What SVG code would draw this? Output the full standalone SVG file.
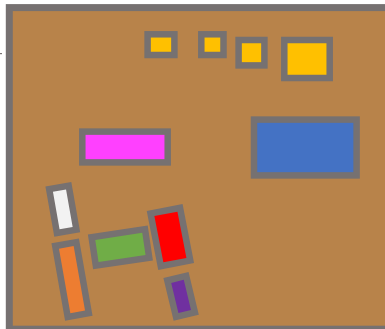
<svg xmlns="http://www.w3.org/2000/svg" width="385" height="329" viewBox="0 0 385 329">
<style>
.b{stroke:#767171;stroke-width:6.5}
</style>
<rect width="385" height="329" fill="#ffffff"/>
<g id="frame"><rect x="9.3" y="7.6" width="385" height="321.6" fill="#B8834A" stroke="#767171" stroke-width="7"/></g>
<rect x="0" y="53" width="2" height="1.2" fill="#767171"/>
<g id="y1"><rect class="b" x="147.6" y="34.3" width="26.8" height="20.7" fill="#FFC000"/></g>
<g id="y2"><rect class="b" x="201.3" y="34.3" width="22.2" height="20.7" fill="#FFC000"/></g>
<g id="y3"><rect class="b" x="238.6" y="40" width="25.8" height="25.4" fill="#FFC000"/></g>
<g id="y4"><rect class="b" x="284.3" y="40" width="45.4" height="38" fill="#FFC000"/></g>
<g id="magenta"><rect class="b" x="82.3" y="131.6" width="85.4" height="30.8" fill="#FF40FF"/></g>
<g id="blue"><rect class="b" x="254" y="119.6" width="102.6" height="55.8" stroke-width="7" fill="#4472C4"/></g>
<g id="white"><rect class="b" x="-9.9" y="-22.3" width="19.8" height="44.6" fill="#F2F2F2" transform="translate(62.8,209.4) rotate(-10)"/></g>
<g id="orange"><rect class="b" x="-10.7" y="-36" width="21.4" height="72" fill="#ED7D31" transform="translate(72,279.6) rotate(-10)"/></g>
<g id="green"><rect class="b" x="-27" y="-14.4" width="54" height="28.8" fill="#70AD47" transform="translate(120.4,247.4) rotate(-8.5)"/></g>
<g id="red"><rect class="b" x="-15" y="-26.8" width="30" height="53.6" fill="#FF0000" transform="translate(170.4,237) rotate(-11)"/></g>
<g id="purple"><rect class="b" x="-9.7" y="-18.7" width="19.4" height="37.4" fill="#7030A0" transform="translate(181.1,296.4) rotate(-13.5)"/></g>
</svg>
